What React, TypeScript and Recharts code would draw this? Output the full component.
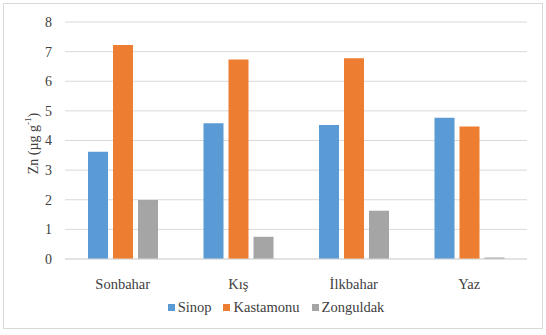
import React from 'react';
import { BarChart, Bar, XAxis, YAxis, CartesianGrid, Legend } from 'recharts';

const seasons = ['Sonbahar', 'Kış', 'İlkbahar', 'Yaz'];
const sinop = [3.62, 4.58, 4.52, 4.77];
const kastamonu = [7.22, 6.73, 6.78, 4.47];
const zonguldak = [1.99, 0.75, 1.63, 0.05];
const yTicks = [0, 1, 2, 3, 4, 5, 6, 7, 8];

const seriesList = [
  { key: 'Sinop', values: sinop, color: '#5B9BD5' },
  { key: 'Kastamonu', values: kastamonu, color: '#ED7D31' },
  { key: 'Zonguldak', values: zonguldak, color: '#A5A5A5' },
];

const data = seasons.map((season, i) => {
  const row: Record<string, string | number> = { season };
  seriesList.forEach((s) => {
    row[s.key] = s.values[i];
  });
  return row;
});

const FONT = 'Liberation Serif, serif';

const renderLegend = () => (
  <div
    style={{
      display: 'flex',
      justifyContent: 'center',
      alignItems: 'center',
      height: 20,
      fontFamily: FONT,
      fontSize: 14.5,
      color: '#404040',
      paddingLeft: 6,
    }}
  >
    {seriesList.map((s) => (
      <span key={s.key} style={{ display: 'flex', alignItems: 'center', margin: '0 6px' }}>
        <span style={{ width: 7, height: 7, background: s.color, marginRight: 3 }} />
        {s.key}
      </span>
    ))}
  </div>
);

const renderYLabel = (props: any) => {
  const vb = props.viewBox || { x: 35, y: 22, width: 30, height: 237 };
  const cx = vb.x - 2;
  const cy = vb.y + vb.height / 2 + 3;
  return (
    <text
      x={cx}
      y={cy}
      transform={`rotate(-90, ${cx}, ${cy})`}
      textAnchor="middle"
      dominantBaseline="central"
      fontFamily={FONT}
      fontSize={14}
      fill="#404040"
    >
      Zn (µg g
      <tspan fontSize={9} dy={-5}>-1</tspan>
      <tspan dy={5}>)</tspan>
    </text>
  );
};

const App: React.FC = () => (
  <div style={{ position: 'absolute', left: 0, top: 0, width: 546, height: 335, background: '#fff' }}>
    <div
      style={{
        position: 'absolute',
        left: 3,
        top: 3,
        width: 538,
        height: 324,
        border: '1px solid #d9d9d9',
      }}
    />
    <BarChart
      width={546}
      height={335}
      data={data}
      margin={{ top: 22, right: 19, left: 35, bottom: 26 }}
      barCategoryGap="20%"
      barGap={5}
      style={{ position: 'absolute', left: 0, top: 0 }}
    >
      <CartesianGrid vertical={false} stroke="#d9d9d9" />
      <XAxis
        dataKey="season"
        axisLine={{ stroke: '#d9d9d9' }}
        tickLine={false}
        tickMargin={14}
        height={30}
        tick={{ fontFamily: FONT, fontSize: 14.5, fill: '#404040' }}
      />
      <YAxis
        domain={[0, 8]}
        ticks={yTicks}
        width={30}
        axisLine={false}
        tickLine={false}
        tickMargin={7}
        tick={{ fontFamily: FONT, fontSize: 14, fill: '#404040' }}
        label={{ content: renderYLabel }}
      />
      <Legend
        verticalAlign="bottom"
        content={renderLegend}
        wrapperStyle={{ top: 297, left: 0, width: 546, height: 20 }}
      />
      {seriesList.map((s) => (
        <Bar key={s.key} dataKey={s.key} fill={s.color} barSize={20} isAnimationActive={false} />
      ))}
    </BarChart>
  </div>
);

export default App;
